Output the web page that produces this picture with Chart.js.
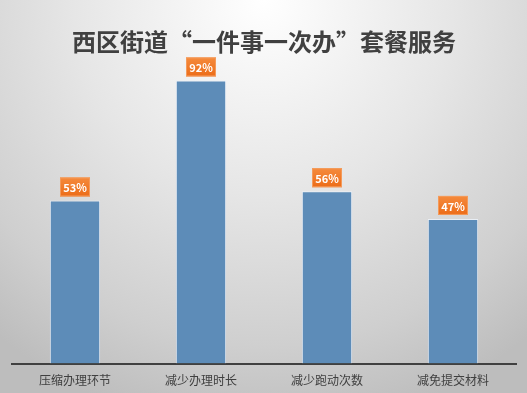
<!DOCTYPE html>
<html>
<head>
<meta charset="utf-8">
<script src="https://cdn.jsdelivr.net/npm/chart.js@4"></script>
<style>
  html, body { margin: 0; padding: 0; }
  body {
    width: 527px; height: 393px; overflow: hidden;
    background: radial-gradient(ellipse 80% 110% at 50% 0%, #ffffff 0%, #e6e6e6 45%, #cfcfcf 80%, #bdbdbd 100%);
  }
  #wrap { width: 527px; height: 393px; }
</style>
</head>
<body>
<div id="wrap"><canvas id="bar-chart"></canvas></div>
<script>
var categories = ["压缩办理环节", "减少办理时长", "减少跑动次数", "减免提交材料"];
var values = [53, 92, 56, 47];
var valueLabels = ["53%", "92%", "56%", "47%"];

var font = "'Noto Sans CJK SC', 'Noto Sans', sans-serif";

// orange boxes with the percentage above each bar
var boxLabels = {
  id: 'boxLabels',
  afterDatasetsDraw: function(chart) {
    var ctx = chart.ctx;
    var meta = chart.getDatasetMeta(0);
    ctx.save();
    ctx.font = "bold 11px " + font;
    ctx.textAlign = 'center';
    ctx.textBaseline = 'middle';
    meta.data.forEach(function(bar, i) {
      var w = 30, h = 19;
      var x = bar.x - w / 2, y = bar.y - 4 - h;
      var g = ctx.createLinearGradient(0, y, 0, y + h);
      g.addColorStop(0, '#f58a3c');
      g.addColorStop(1, '#ec6c18');
      ctx.fillStyle = g;
      ctx.fillRect(x, y, w, h);
      ctx.strokeStyle = '#f49a5a';
      ctx.lineWidth = 1;
      ctx.strokeRect(x + 0.5, y + 0.5, w - 1, h - 1);
      ctx.fillStyle = '#ffffff';
      ctx.fillText(valueLabels[i], bar.x, y + h / 2 + 1);
    });
    ctx.restore();
  }
};

new Chart(document.getElementById("bar-chart"), {
  type: 'bar',
  data: {
    labels: categories,
    datasets: [
      {
        label: "比例",
        backgroundColor: "#5d8cb8",
        borderColor: "rgba(235,242,250,0.85)",
        borderWidth: 1,
        borderSkipped: 'bottom',
        categoryPercentage: 1,
        barPercentage: 0.4,
        data: values
      }
    ]
  },
  options: {
    responsive: true,
    maintainAspectRatio: false,
    animation: false,
    layout: { padding: { left: 12, right: 11, bottom: 3 } },
    plugins: {
      legend: { display: false },
      tooltip: { enabled: false },
      title: {
        display: true,
        text: '西区街道“一件事一次办”套餐服务',
        color: '#404040',
        font: { family: font, size: 24, weight: 'bold' },
        padding: { top: 27, bottom: 0 }
      }
    },
    scales: {
      y: { display: false, min: 0, max: 100 },
      x: {
        grid: { display: false },
        border: { display: true, color: '#404040', width: 2 },
        ticks: { color: '#404040', font: { family: font, size: 12 }, padding: 2 }
      }
    }
  },
  plugins: [boxLabels]
});
</script>
</body>
</html>
